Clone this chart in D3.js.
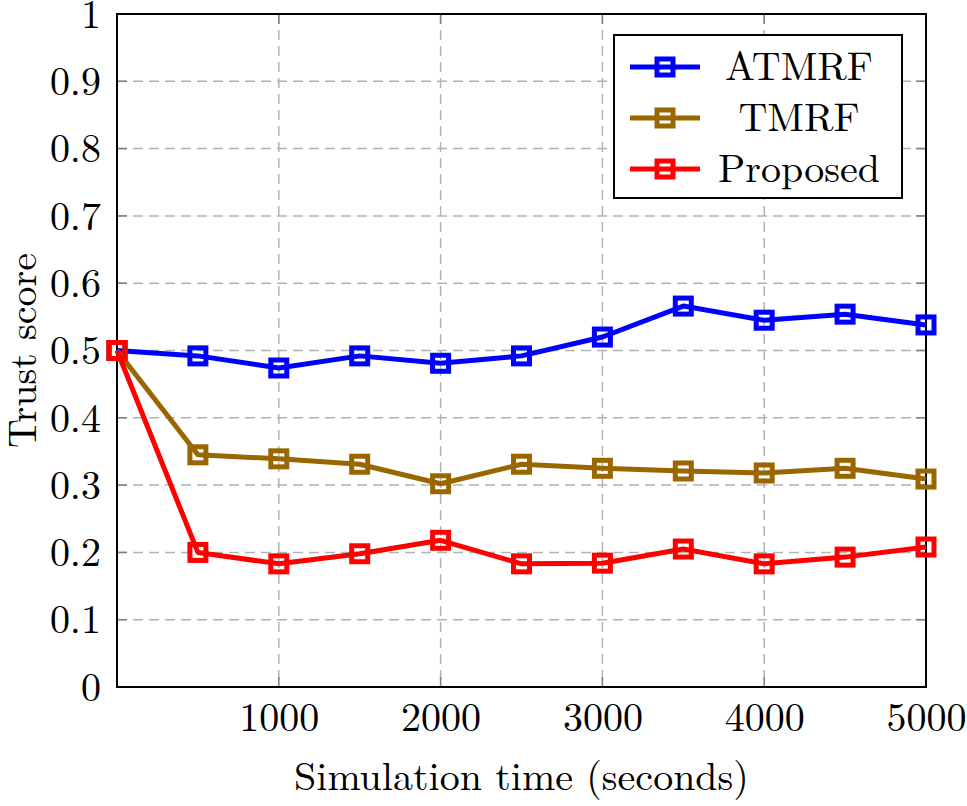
<!DOCTYPE html>
<html>
<head>
<meta charset="utf-8">
<script src="https://cdn.jsdelivr.net/npm/d3@7"></script>
<style>
  body { margin: 0; background: #fff; }
  text { font-family: "Latin Modern Roman", "CMU Serif", "Liberation Serif", serif; fill: #000; }
</style>
</head>
<body>
<div id="vis"></div>
<script>
// data
const times = [0, 500, 1000, 1500, 2000, 2500, 3000, 3500, 4000, 4500, 5000];
const atmrf = [0.5, 0.492, 0.474, 0.492, 0.481, 0.492, 0.520, 0.566, 0.545, 0.554, 0.538];
const tmrf = [0.5, 0.345, 0.339, 0.331, 0.302, 0.331, 0.325, 0.321, 0.318, 0.325, 0.309];
const proposed = [0.5, 0.200, 0.183, 0.198, 0.218, 0.183, 0.184, 0.205, 0.183, 0.193, 0.208];
const seriesNames = ["ATMRF", "TMRF", "Proposed"];
const seriesColors = ["#0000ff", "#996600", "#ff0000"];
const xTicks = [1000, 2000, 3000, 4000, 5000];
const yTicks = [0, 0.1, 0.2, 0.3, 0.4, 0.5, 0.6, 0.7, 0.8, 0.9, 1];

const width = 967, height = 806;
const margin = {left: 117, right: 41, top: 14, bottom: 119};
const plotW = width - margin.left - margin.right;
const plotH = height - margin.top - margin.bottom;

const svg = d3.select("#vis").append("svg").attr("width", width).attr("height", height);
const g = svg.append("g").attr("transform", `translate(${margin.left},${margin.top})`);

const x = d3.scaleLinear().domain([0, 5000]).range([0, plotW]);
const y = d3.scaleLinear().domain([0, 1]).range([plotH, 0]);

// grid
g.selectAll("line.gx").data(xTicks).enter().append("line")
  .attr("x1", d => x(d)).attr("x2", d => x(d)).attr("y1", 0).attr("y2", plotH)
  .attr("stroke", "#b3b3b3").attr("stroke-width", 1.5).attr("stroke-dasharray", "10,6");
g.selectAll("line.gy").data(yTicks.slice(1, -1)).enter().append("line")
  .attr("x1", 0).attr("x2", plotW).attr("y1", d => y(d)).attr("y2", d => y(d))
  .attr("stroke", "#b3b3b3").attr("stroke-width", 1.5).attr("stroke-dasharray", "10,6");

// axes
const xAxis = d3.axisBottom(x).tickValues(xTicks).tickSize(0).tickPadding(14).tickFormat(d3.format("d"));
const yAxis = d3.axisLeft(y).tickValues(yTicks).tickSize(0).tickPadding(16).tickFormat(d => d === 0 || d === 1 ? d : d3.format(".1f")(d));
g.append("g").attr("transform", `translate(0,${plotH})`).call(xAxis)
  .call(a => a.select(".domain").remove())
  .selectAll("text").attr("font-size", 40).attr("dy", "0.75em");
g.append("g").call(yAxis)
  .call(a => a.select(".domain").remove())
  .selectAll("text").attr("font-size", 40).attr("dy", "0.33em");

// tick marks (inside, mirrored)
const tickLen = 10;
xTicks.forEach(t => {
  g.append("line").attr("x1", x(t)).attr("x2", x(t)).attr("y1", plotH).attr("y2", plotH - tickLen).attr("stroke", "#808080").attr("stroke-width", 1.5);
  g.append("line").attr("x1", x(t)).attr("x2", x(t)).attr("y1", 0).attr("y2", tickLen).attr("stroke", "#808080").attr("stroke-width", 1.5);
});
yTicks.forEach(t => {
  g.append("line").attr("x1", 0).attr("x2", tickLen).attr("y1", y(t)).attr("y2", y(t)).attr("stroke", "#808080").attr("stroke-width", 1.5);
  g.append("line").attr("x1", plotW).attr("x2", plotW - tickLen).attr("y1", y(t)).attr("y2", y(t)).attr("stroke", "#808080").attr("stroke-width", 1.5);
});

g.append("rect").attr("width", plotW).attr("height", plotH)
  .attr("fill", "none").attr("stroke", "#000").attr("stroke-width", 2);

// series
const allSeries = [atmrf, tmrf, proposed];
const line = d3.line().x((d, i) => x(times[i])).y(d => y(d));
const ms = 16;
allSeries.forEach((vals, k) => {
  const col = seriesColors[k];
  g.append("path").datum(vals).attr("d", line)
    .attr("fill", "none").attr("stroke", col).attr("stroke-width", 5).attr("stroke-linejoin", "round");
  g.selectAll(null).data(vals).enter().append("rect")
    .attr("x", (d, i) => x(times[i]) - ms / 2).attr("y", d => y(d) - ms / 2)
    .attr("width", ms).attr("height", ms)
    .attr("fill", "none").attr("stroke", col).attr("stroke-width", 5);
});

// labels
svg.append("text").attr("x", margin.left + plotW / 2).attr("y", 790)
  .attr("text-anchor", "middle").attr("font-size", 40).text("Simulation time (seconds)");
svg.append("text").attr("transform", `translate(36,${margin.top + plotH / 2}) rotate(-90)`)
  .attr("text-anchor", "middle").attr("font-size", 40).text("Trust score");

// legend
const lg = svg.append("g").attr("transform", "translate(614,35)");
lg.append("rect").attr("width", 288).attr("height", 163).attr("fill", "#fff").attr("stroke", "#000").attr("stroke-width", 2);
seriesNames.forEach((name, k) => {
  const cy = 32 + k * 51;
  const col = seriesColors[k];
  lg.append("line").attr("x1", 16).attr("x2", 86).attr("y1", cy).attr("y2", cy).attr("stroke", col).attr("stroke-width", 5);
  lg.append("rect").attr("x", 51 - ms / 2).attr("y", cy - ms / 2).attr("width", ms).attr("height", ms)
    .attr("fill", "none").attr("stroke", col).attr("stroke-width", 5);
  lg.append("text").attr("x", 185).attr("y", cy).attr("dy", "0.33em").attr("text-anchor", "middle")
    .attr("font-size", 40).text(name);
});
</script>
</body>
</html>
